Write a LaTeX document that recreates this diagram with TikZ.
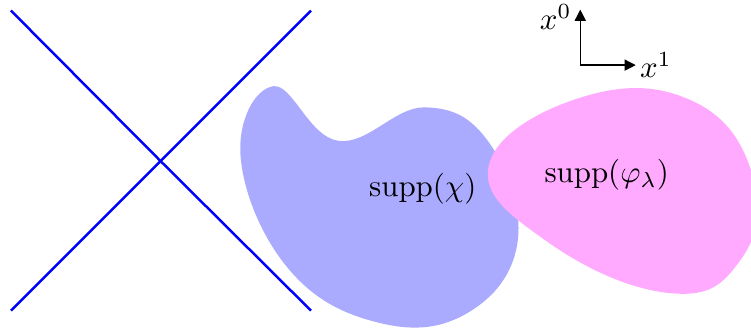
\documentclass[tikz,border=0pt]{standalone}
\usepackage{amsmath,amsfonts,amssymb}
\usetikzlibrary{arrows.meta}

\definecolor{chicol}{RGB}{170,170,255}
\definecolor{phicol}{RGB}{255,170,255}

\begin{document}
\begin{tikzpicture}[
  cone/.style={blue, thick},
  axis/.style={-{Triangle[length=3.6pt,width=3.6pt]}}
]
\useasboundingbox (-1.824,-1.935) rectangle (6.71,1.83);

% Light cone
\coordinate (p) at (0,0);
\draw[cone] (-1.7,-1.7) -- (p) -- (1.71,1.71);
\draw[cone] (-1.7,1.71) -- (p) -- (1.71,-1.7);

% Support of chi
\fill[chicol] plot[smooth cycle, tension=0.7] coordinates {
  (1.28,0.85) (2.02,0.23) (3.0,0.61)
  (3.74,0.20) (4.06,-0.90) (3.50,-1.72) (2.49,-1.84)
  (1.45,-1.22) (0.91,0.05)};

% Support of phi_lambda
\fill[phicol] plot[smooth cycle, tension=0.75] coordinates {
  (3.73,-0.05) (4.77,0.72) (6.05,0.68) (6.74,-0.20)
  (6.58,-1.14) (5.78,-1.50) (4.40,-0.92)};

\node (chi) at (2.98,-0.31) {$\operatorname{supp}(\chi)$};
\node (phi) at (5.07,-0.16) {$\operatorname{supp}(\varphi_\lambda)$};

% Coordinate axes
\coordinate (o) at (4.77,1.09);
\coordinate (t) at (4.77,1.72);
\coordinate (s) at (5.40,1.09);
\draw[axis] (o) -- (t);
\draw[axis] (o) -- (s);
\node (x0) at (4.49,1.64) {$x^0$};
\node (x1) at (5.63,1.09) {$x^1$};

\end{tikzpicture}
\end{document}
